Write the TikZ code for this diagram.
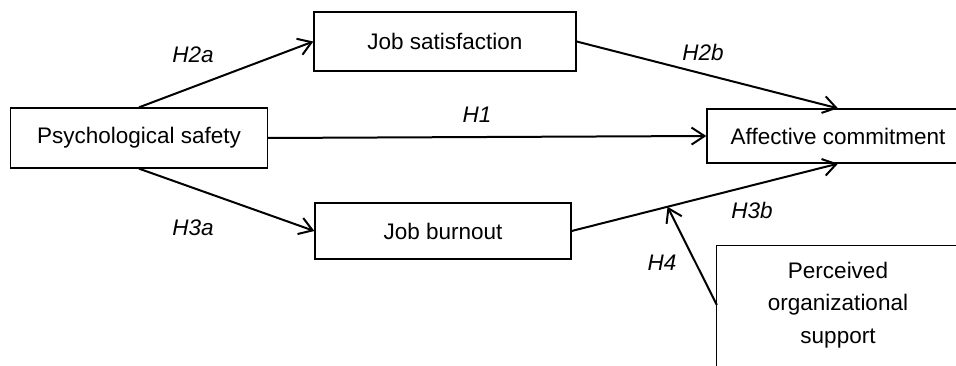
\documentclass[tikz,border=0pt]{standalone}
\usepackage{fontspec}
\setmainfont{Liberation Sans}
\usetikzlibrary{arrows.meta,calc}
\begin{document}
\begin{tikzpicture}[x=1pt,y=-1pt,
  box/.style={draw, line width=1.3pt, inner sep=0pt, font=\fontsize{22.5}{32}\selectfont},
  conn/.style={line width=2pt, -{Straight Barb[length=13pt,width=17pt,line width=2pt]}},
  hyp/.style={font=\fontsize{22.5}{27}\selectfont\itshape, inner sep=0pt}]
\useasboundingbox (0,0) rectangle (956,366);
\clip (0,0) rectangle (956,366);
\node (ps) [box, minimum width=257pt, minimum height=60pt] at (139,138) {Psychological safety};
\node (js) [box, minimum width=262pt, minimum height=59pt] at (445,41.5) {Job satisfaction};
\node (ac) [box, minimum width=262pt, minimum height=54pt] at (838,136) {Affective commitment};
\node (jb) [box, minimum width=256pt, minimum height=56pt] at (443,231) {Job burnout};
\node (pos) [inner sep=0pt, minimum width=242pt, minimum height=118pt, align=center,
  font=\fontsize{22.5}{32.5}\selectfont] at (838,305) {Perceived\\organizational\\support};
\draw[line width=1.3pt] (pos.south west) ++(0,40) |- ([xshift=30pt]pos.north east);
\coordinate (mid) at ($(jb.east)!0.36!(ac.south)$);
\draw[conn] (ps.north) -- (js.west);
\draw[conn] (ps.east) -- (ac.west);
\draw[conn] (ps.south) -- (jb.west);
\draw[conn] (js.east) -- (ac.north);
\draw[conn] (jb.east) -- (ac.south);
\draw[conn] (pos.west) -- (mid);
\node (h2a) [hyp] at (193,55) {H2a};
\node (h2b) [hyp] at (703,52) {H2b};
\node (h1) [hyp] at (477,115) {H1};
\node (h3a) [hyp] at (193,228) {H3a};
\node (h3b) [hyp] at (752,210) {H3b};
\node (h4) [hyp] at (662,263) {H4};
\end{tikzpicture}
\end{document}
